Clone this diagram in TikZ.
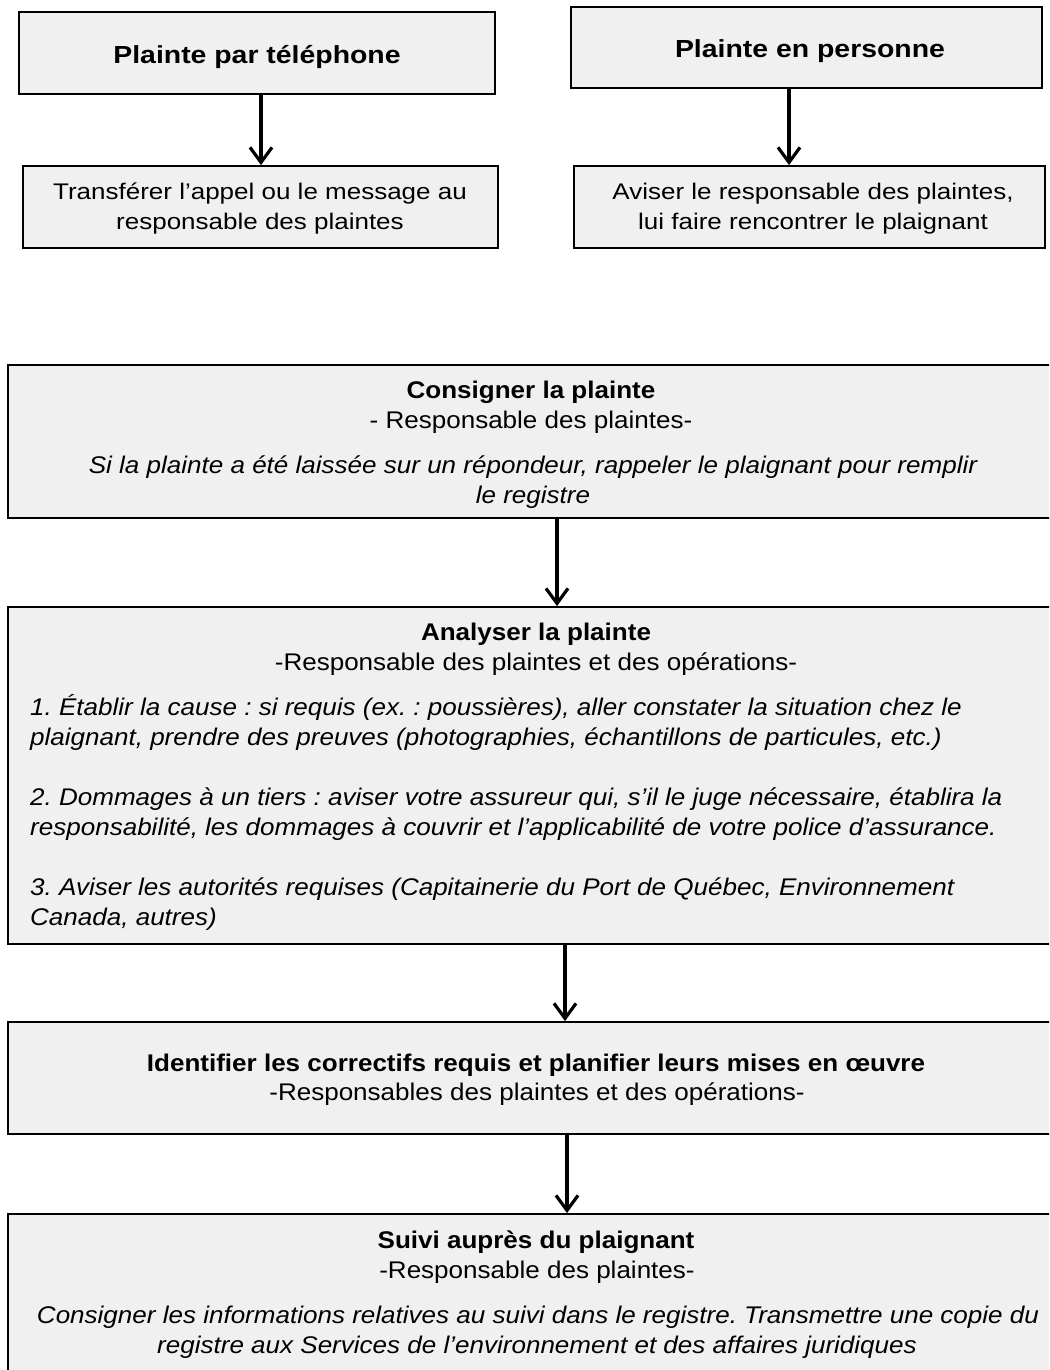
\documentclass[tikz,border=0pt]{standalone}
\usepackage{fontspec}
\setmainfont{Liberation Sans}
\newfontfamily\topfont[FakeStretch=1.15]{Liberation Sans}
\newfontfamily\lowfont[FakeStretch=1.08]{Liberation Sans}
\usetikzlibrary{arrows.meta}
\definecolor{boxfill}{HTML}{F0F0F0}
\frenchspacing
\tikzset{
 box/.style={draw=black, line width=1.8pt, fill=boxfill, rectangle, inner sep=0pt},
 flow/.style={line width=3.2pt, -{Straight Barb[length=15pt,width=22pt]}},
 txt/.style={anchor=mid, inner sep=0pt, yshift=-6pt},
 toptitle/.style={txt, font=\topfont\fontsize{24.7}{30}\selectfont\bfseries},
 topbody/.style={txt, font=\topfont\fontsize{22.6}{30}\selectfont},
 ltitle/.style={txt, font=\lowfont\fontsize{24.1}{30}\selectfont\bfseries},
 lsub/.style={txt, font=\lowfont\fontsize{24.1}{30}\selectfont},
 lital/.style={txt, font=\lowfont\fontsize{24.1}{30}\selectfont\itshape},
 litall/.style={lital, anchor=mid west},
}
\begin{document}
\begin{tikzpicture}[x=1pt,y=-1pt]
\useasboundingbox (0,0) rectangle (1049,1370);
\fill[white] (0,0) rectangle (1049,1370);
\clip (0,0) rectangle (1049,1370);

% boxes
\node[box, minimum width=476pt, minimum height=82pt] (b1) at (257,53) {};
\node[box, minimum width=471pt, minimum height=81pt] (b2) at (806.5,47.5) {};
\node[box, minimum width=475pt, minimum height=82pt] (b3) at (260.5,207) {};
\node[box, minimum width=471pt, minimum height=82pt] (b4) at (809.5,207) {};
\node[box, minimum width=1056pt, minimum height=153pt] (b5) at (536,441.5) {};
\node[box, minimum width=1056pt, minimum height=337pt] (b6) at (536,775.5) {};
\node[box, minimum width=1056pt, minimum height=112pt] (b7) at (536,1078) {};
\node[box, minimum width=1056pt, minimum height=170pt] (b8) at (536,1299) {};

% texts
\node[toptitle] (t1) at (257,55) {Plainte par téléphone};
\node[toptitle] (t2) at (810,49) {Plainte en personne};
\node[topbody] (t3a) at (260,191) {Transférer l’appel ou le message au};
\node[topbody] (t3b) at (260,221) {responsable des plaintes};
\node[topbody] (t4a) at (813,191) {Aviser le responsable des plaintes,};
\node[topbody] (t4b) at (813,221) {lui faire rencontrer le plaignant};

\node[ltitle] (t5a) at (531,390) {Consigner la plainte};
\node[lsub] (t5b) at (531,420) {- Responsable des plaintes-};
\node[lital] (t5c) at (533,465) {Si la plainte a été laissée sur un répondeur, rappeler le plaignant pour remplir};
\node[lital] (t5d) at (533,495) {le registre};

\node[ltitle] (t6a) at (536,632) {Analyser la plainte};
\node[lsub] (t6b) at (536,662) {-Responsable des plaintes et des opérations-};
\node[litall] (t6c) at (30,707) {1. Établir la cause : si requis (ex. : poussières), aller constater la situation chez le};
\node[litall] (t6d) at (30,737) {plaignant, prendre des preuves (photographies, échantillons de particules, etc.)};
\node[litall] (t6e) at (30,797) {2. Dommages à un tiers : aviser votre assureur qui, s’il le juge nécessaire, établira la};
\node[litall] (t6f) at (30,827) {responsabilité, les dommages à couvrir et l’applicabilité de votre police d’assurance.};
\node[litall] (t6g) at (30,887) {3. Aviser les autorités requises (Capitainerie du Port de Québec, Environnement};
\node[litall] (t6h) at (30,917) {Canada, autres)};

\node[ltitle] (t7a) at (536,1063) {Identifier les correctifs requis et planifier leurs mises en œuvre};
\node[lsub] (t7b) at (537,1092) {-Responsables des plaintes et des opérations-};

\node[ltitle] (t8a) at (536,1240) {Suivi auprès du plaignant};
\node[lsub] (t8b) at (537,1270) {-Responsable des plaintes-};
\node[lital] (t8c) at (538,1315) {Consigner les informations relatives au suivi dans le registre. Transmettre une copie du};
\node[lital] (t8d) at (537,1345) {registre aux Services de l’environnement et des affaires juridiques};

% connectors
\coordinate (x1) at (261,0);
\coordinate (x2) at (789,0);
\coordinate (x3) at (557,0);
\coordinate (x4) at (565,0);
\coordinate (x5) at (567,0);
\draw[flow] (b1.south -| x1) -- (b3.north -| x1);
\draw[flow] (b2.south -| x2) -- (b4.north -| x2);
\draw[flow] (b5.south -| x3) -- (b6.north -| x3);
\draw[flow] (b6.south -| x4) -- (b7.north -| x4);
\draw[flow] (b7.south -| x5) -- (b8.north -| x5);
\end{tikzpicture}
\end{document}
